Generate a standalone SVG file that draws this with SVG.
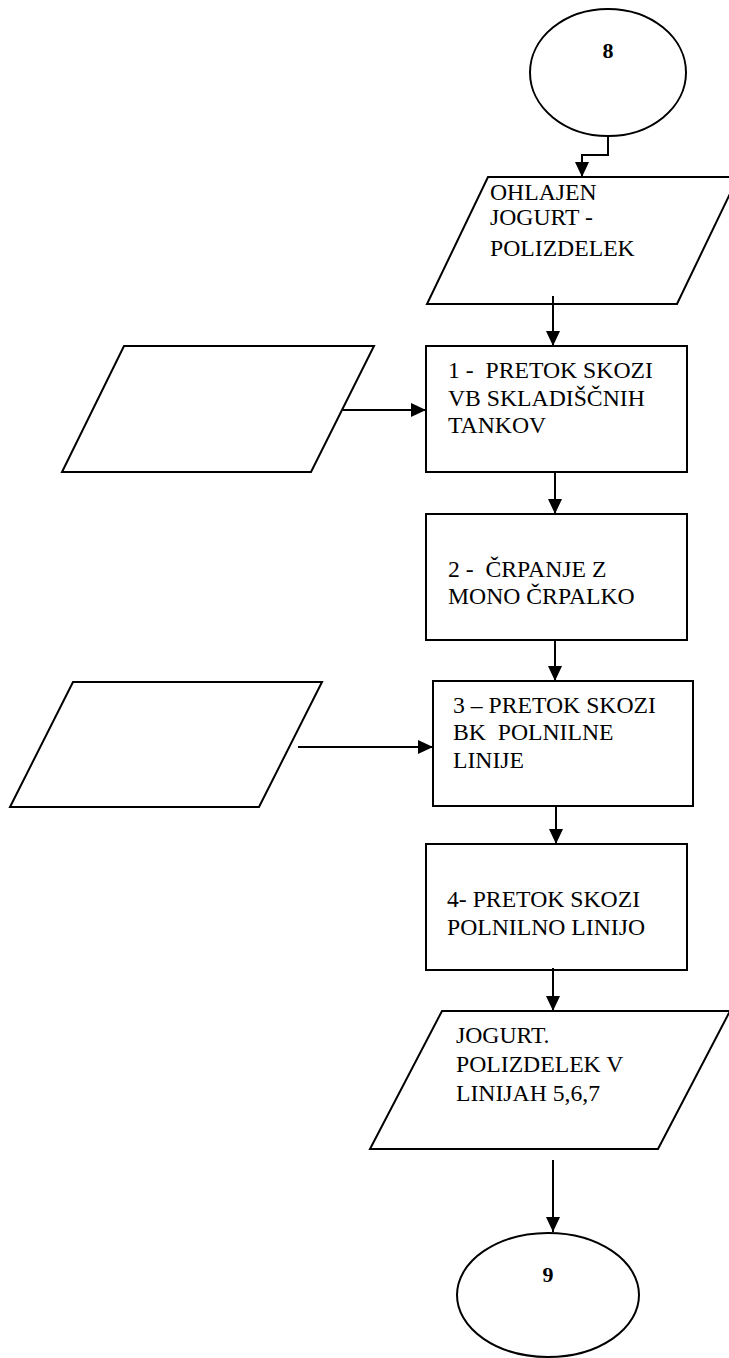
<svg xmlns="http://www.w3.org/2000/svg" width="729" height="1358" viewBox="0 0 729 1358">
<style>
.s{fill:#fff;stroke:#000;stroke-width:2}
.t{font-family:"Liberation Serif","Times New Roman",serif;font-size:23.7px;fill:#000}
.b{font-family:"Liberation Serif","Times New Roman",serif;font-size:22px;font-weight:bold;fill:#000;text-anchor:middle}
.c{fill:none;stroke:#000;stroke-width:2}
</style>
<defs>
<marker id="ah" markerUnits="userSpaceOnUse" markerWidth="16" markerHeight="14" refX="15" refY="7" orient="auto">
<path d="M0,0 L15,7 L0,14 Z" fill="#000"/>
</marker>
</defs>
<rect width="729" height="1358" fill="#fff"/>
<g id="start8">
<ellipse class="s" cx="608" cy="72.5" rx="78" ry="63.5"/>
<text class="b" x="608" y="58">8</text>
</g>
<g id="input-ohlajen">
<polygon class="s" points="488,177 738,177 677,304 427,304"/>
<text class="t" x="490" y="200">OHLAJEN</text>
<text class="t" x="490" y="225">JOGURT -</text>
<text class="t" x="490" y="256">POLIZDELEK</text>
</g>
<g id="side-input-1">
<polygon class="s" points="124,346 374,346 311,472 62,472"/>
</g>
<g id="step1">
<rect class="s" x="426" y="346" width="261" height="126"/>
<text class="t" x="448" y="378" xml:space="preserve">1 -  PRETOK SKOZI</text>
<text class="t" x="448" y="406">VB SKLADIŠČNIH</text>
<text class="t" x="448" y="433">TANKOV</text>
</g>
<g id="step2">
<rect class="s" x="426" y="514" width="261" height="126"/>
<text class="t" x="448" y="577" xml:space="preserve">2 -  ČRPANJE Z</text>
<text class="t" x="448" y="604">MONO ČRPALKO</text>
</g>
<g id="side-input-2">
<polygon class="s" points="73,682 322,682 259,807 10,807"/>
</g>
<g id="step3">
<rect class="s" x="433" y="681" width="260" height="125"/>
<text class="t" x="453" y="713">3 – PRETOK SKOZI</text>
<text class="t" x="453" y="740" xml:space="preserve">BK  POLNILNE</text>
<text class="t" x="453" y="768">LINIJE</text>
</g>
<g id="step4">
<rect class="s" x="426" y="844" width="261" height="126"/>
<text class="t" x="447" y="907">4- PRETOK SKOZI</text>
<text class="t" x="447" y="935">POLNILNO LINIJO</text>
</g>
<g id="output-jogurt">
<polygon class="s" points="442,1011 730,1011 658,1149 370,1149"/>
<text class="t" x="456" y="1043">JOGURT.</text>
<text class="t" x="456" y="1072">POLIZDELEK V</text>
<text class="t" x="456" y="1101">LINIJAH 5,6,7</text>
</g>
<g id="end9">
<ellipse class="s" cx="548" cy="1295" rx="91" ry="62"/>
<text class="b" x="548" y="1282">9</text>
</g>
<g id="connectors">
<polyline class="c" points="608,136 608,155 582,155 582,177" marker-end="url(#ah)"/>
<line class="c" x1="553" y1="296" x2="553" y2="346" marker-end="url(#ah)"/>
<line class="c" x1="343" y1="410" x2="426" y2="410" marker-end="url(#ah)"/>
<line class="c" x1="555" y1="472" x2="555" y2="514" marker-end="url(#ah)"/>
<line class="c" x1="555" y1="640" x2="555" y2="681" marker-end="url(#ah)"/>
<line class="c" x1="298" y1="747" x2="433" y2="747" marker-end="url(#ah)"/>
<line class="c" x1="556" y1="806" x2="556" y2="844" marker-end="url(#ah)"/>
<line class="c" x1="553" y1="968" x2="553" y2="1011" marker-end="url(#ah)"/>
<line class="c" x1="553" y1="1160" x2="553" y2="1232" marker-end="url(#ah)"/>
</g>
</svg>
